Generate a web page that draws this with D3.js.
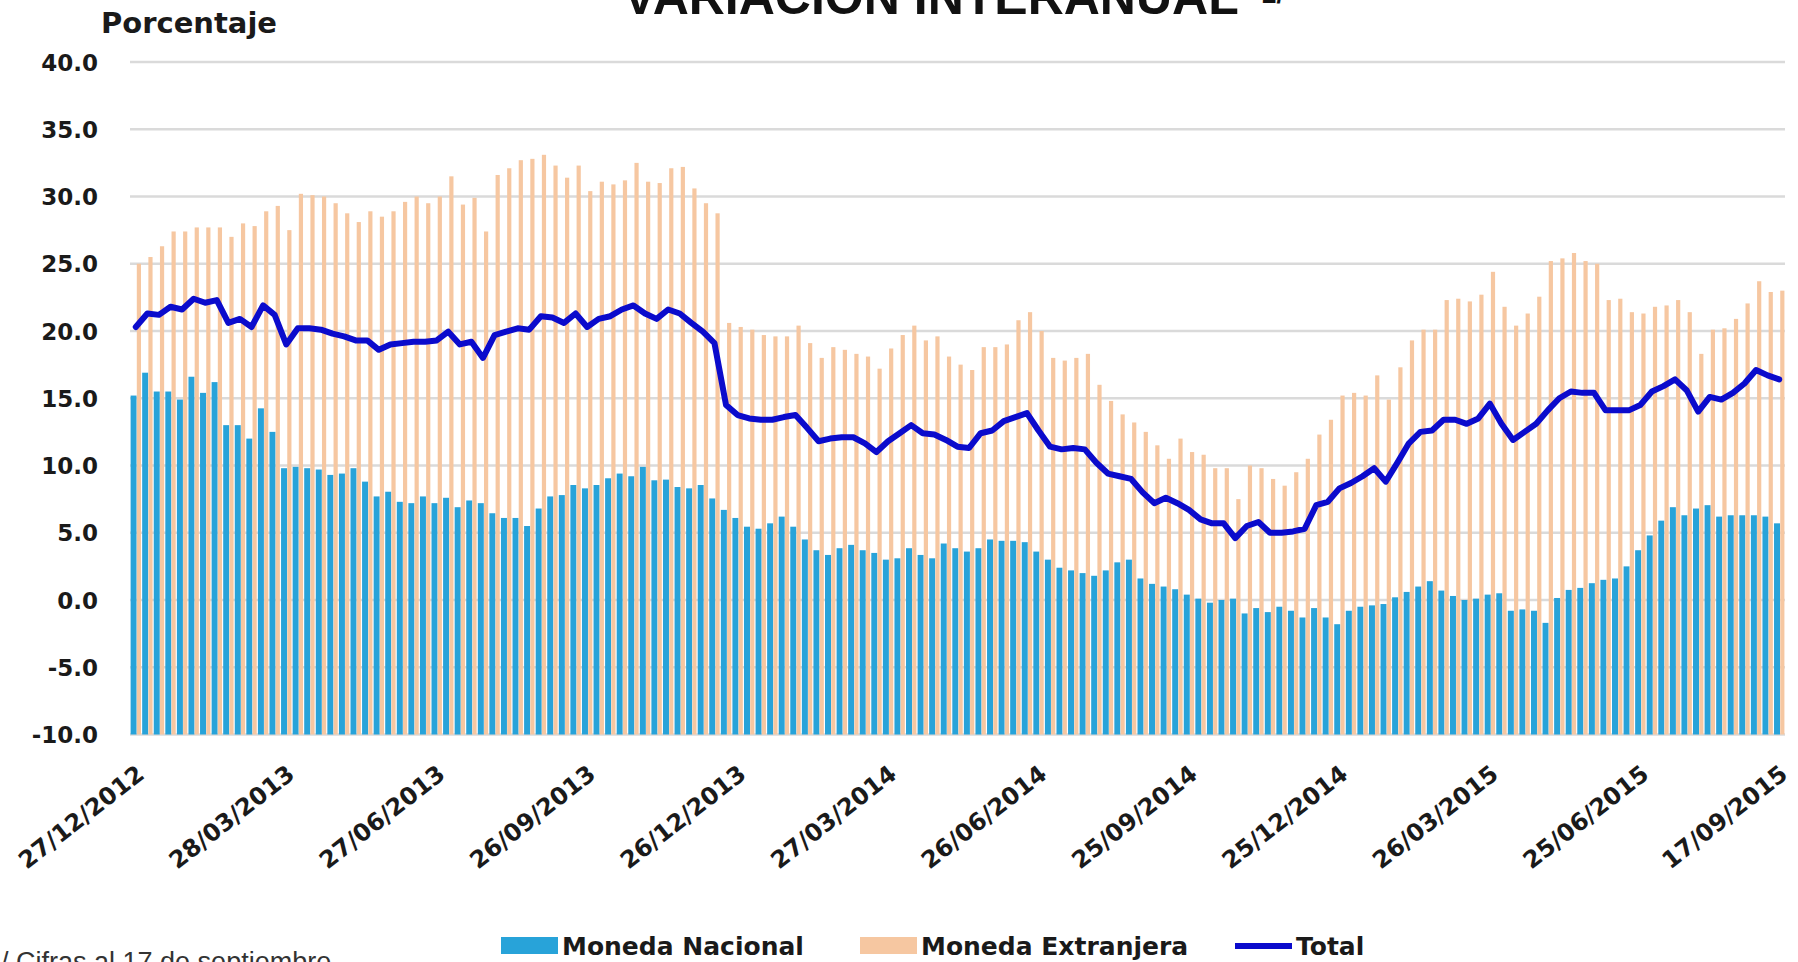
<!DOCTYPE html>
<html>
<head>
<meta charset="utf-8">
<script src="https://cdn.jsdelivr.net/npm/d3@7"></script>
<style>
body { margin: 0; background: #ffffff; overflow: hidden; }
</style>
</head>
<body>
<script>
// weekly series, 27/12/2012 .. 17/09/2015 (143 weeks)
var monedaNacional = [15.2, 16.9, 15.5, 15.5, 14.9, 16.6, 15.4, 16.2, 13.0, 13.0, 12.0, 14.25, 12.5, 9.8, 9.9, 9.8, 9.7, 9.3, 9.4, 9.8,
    8.8, 7.7, 8.05, 7.3, 7.2, 7.7, 7.2, 7.6, 6.9, 7.4, 7.2, 6.45, 6.1, 6.1, 5.5, 6.8, 7.7,
    7.8, 8.55, 8.3, 8.55, 9.05, 9.4, 9.2, 9.9, 8.9, 8.95, 8.4, 8.3, 8.55, 7.55, 6.7, 6.1, 5.45, 5.3, 5.7, 6.2,
    5.45, 4.5, 3.7, 3.35, 3.85, 4.1, 3.7, 3.5, 3.0, 3.1, 3.85, 3.35, 3.1, 4.2, 3.85, 3.6, 3.85, 4.5,
    4.4, 4.4, 4.3, 3.6, 3.0, 2.4, 2.2, 2.0, 1.8, 2.2, 2.8, 3.0, 1.6, 1.2, 1.0, 0.8, 0.4, 0.1, -0.2, 0.0,
    0.1, -1.0, -0.6, -0.9, -0.5, -0.8, -1.3, -0.6, -1.3, -1.8, -0.8, -0.5, -0.4, -0.3, 0.2, 0.6, 1.0, 1.4, 0.7, 0.3,
    0.0, 0.1, 0.4, 0.5, -0.8, -0.7, -0.8, -1.7,
    0.15, 0.75, 0.9, 1.25, 1.5, 1.6, 2.5, 3.7, 4.8, 5.9, 6.9, 6.3, 6.8, 7.05, 6.2, 6.3, 6.3, 6.3, 6.2, 5.7]

var monedaExtranjera = [25.0, 25.5, 26.3, 27.4, 27.4, 27.7, 27.7, 27.7, 27.0, 28.0, 27.8, 28.9, 29.3, 27.5, 30.2, 30.1, 30.0, 29.5,
    28.75, 28.1, 28.9, 28.5, 28.9, 29.6, 30.0, 29.5, 30.0, 31.5, 29.4, 29.9, 27.4, 31.6, 32.1, 32.7, 32.8, 33.1,
    32.3, 31.4, 32.3, 30.4, 31.1, 30.9, 31.2, 32.5, 31.1, 31.0, 32.1, 32.2, 30.6, 29.5, 28.75, 20.6, 20.3, 20.1, 19.7,
    19.6, 19.6, 20.4, 19.1, 18.0, 18.8, 18.6, 18.3, 18.1, 17.2, 18.7, 19.7, 20.4, 19.3, 19.6, 18.1, 17.5, 17.1, 18.8, 18.8,
    19.0, 20.8, 21.4, 20.0, 18.0, 17.8, 18.0, 18.3, 16.0, 14.8, 13.8, 13.2, 12.5, 11.5, 10.5, 12.0, 11.0, 10.8, 9.8, 9.8,
    7.5, 10.0, 9.8, 9.0, 8.5, 9.5,
    10.5, 12.3, 13.4, 15.2, 15.4, 15.2, 16.7, 14.9, 17.3, 19.3, 20.1, 20.1, 22.3, 22.4, 22.2, 22.7, 24.4, 21.8, 20.4, 21.3,
    22.55, 25.2, 25.4, 25.8, 25.2, 25.0, 22.3, 22.4, 21.4, 21.3, 21.8, 21.9, 22.3, 21.4, 18.3, 20.1, 20.2, 20.9, 22.05, 23.7,
    22.9, 23.0]

var total = [20.3, 21.3, 21.2, 21.8, 21.6, 22.4, 22.1, 22.3, 20.6, 20.9, 20.3, 21.9, 21.2, 19.0, 20.2, 20.2, 20.1, 19.8, 19.6,
    19.3, 19.3, 18.6, 19.0, 19.1, 19.2, 19.2, 19.3, 19.95, 19.0, 19.2, 18.0, 19.7, 19.95, 20.2, 20.1, 21.1, 21.0,
    20.6, 21.3, 20.3, 20.9, 21.1, 21.6, 21.9, 21.3, 20.9, 21.6, 21.3, 20.6, 19.95, 19.1, 14.5, 13.75, 13.5, 13.4, 13.4, 13.6,
    13.75, 12.8, 11.8, 12.0, 12.1, 12.1, 11.65, 11.0, 11.8, 12.4, 13.0, 12.4, 12.3, 11.9, 11.4, 11.3, 12.4, 12.6,
    13.3, 13.6, 13.9, 12.6, 11.4, 11.2, 11.3, 11.2, 10.2, 9.4, 9.2, 9.0, 8.0, 7.2, 7.6, 7.2, 6.7, 6.0, 5.7, 5.7,
    4.6, 5.5, 5.8, 5.0, 5.0, 5.1,
    5.3, 7.05, 7.3, 8.3, 8.7, 9.2, 9.8, 8.8, 10.2, 11.65, 12.5, 12.6, 13.4, 13.4, 13.1, 13.5, 14.6, 13.1, 11.9, 12.5,
    13.1, 14.1, 15.0, 15.5, 15.4, 15.4, 14.1, 14.1, 14.1, 14.5, 15.5, 15.9, 16.4, 15.6, 14.0, 15.1, 14.9, 15.4, 16.1, 17.1,
    16.7, 16.4]

var tickLabels = ['27/12/2012', '28/03/2013', '27/06/2013', '26/09/2013', '26/12/2013', '27/03/2014',
    '26/06/2014', '25/09/2014', '25/12/2014', '26/03/2015', '25/06/2015', '17/09/2015']
var yTicks = [-10, -5, 0, 5, 10, 15, 20, 25, 30, 35, 40]
var legendNames = ['Moneda Nacional', 'Moneda Extranjera', 'Total']

function plot_it() {
    var svgWidth = 1798, svgHeight = 962
    var blue = '#28A3D9', peach = '#F6C7A1', lineBlue = '#0B0BCC'
    var svg = d3.select('body').append('svg').attr('width', svgWidth).attr('height', svgHeight).attr('id', 'svg0')

    // one category per week
    var fmt = d3.timeFormat('%d/%m/%Y')
    var start = new Date(2012, 11, 27)
    var weeks = monedaNacional.map((d, i) => fmt(d3.timeDay.offset(start, 7 * i)))

    var x = d3.scaleBand().domain(weeks).range([130, 1785]).paddingInner(0).paddingOuter(0)
    var y = d3.scaleLinear().domain([-10, 40]).range([734.5, 62])
    var bw = x.bandwidth()

    // gridlines
    svg.append('g').selectAll('line').data(yTicks).enter().append('line')
        .attr('x1', 130).attr('x2', 1785)
        .attr('y1', d => y(d)).attr('y2', d => y(d))
        .attr('stroke', '#DADADA').attr('stroke-width', 2.5)

    // y labels (plain hyphen like the original)
    svg.append('g').selectAll('text').data(yTicks).enter().append('text')
        .attr('x', 98).attr('y', d => y(d) + 8.5)
        .attr('text-anchor', 'end')
        .style('font-family', 'DejaVu Sans').style('font-weight', 'bold').style('font-size', '23px')
        .attr('fill', '#1a1a1a')
        .text(d => d.toFixed(1))

    // clustered columns, both start at the axis minimum
    var bars = svg.append('g')
    bars.selectAll('.mn').data(monedaNacional).enter().append('rect').attr('class', 'mn')
        .attr('x', (d, i) => x(weeks[i]) + 0.6).attr('width', 6)
        .attr('y', d => y(d)).attr('height', d => y(-10) - y(d))
        .attr('fill', blue)
    bars.selectAll('.me').data(monedaExtranjera).enter().append('rect').attr('class', 'me')
        .attr('x', (d, i) => x(weeks[i]) + 6.8).attr('width', 4.2)
        .attr('y', d => y(d)).attr('height', d => y(-10) - y(d))
        .attr('fill', peach)

    // total line
    var line = d3.line()
        .x((d, i) => x(weeks[i]) + bw / 2)
        .y(d => y(d))
    svg.append('path').datum(total)
        .attr('fill', 'none').attr('stroke', lineBlue).attr('stroke-width', 6)
        .attr('stroke-linejoin', 'round').attr('stroke-linecap', 'round')
        .attr('d', line)

    // x axis labels (rotated)
    var xAxis = svg.append('g').attr('transform', 'translate(0,777)')
        .call(d3.axisBottom(x).tickValues(tickLabels).tickSize(0).tickPadding(0))
    xAxis.select('.domain').remove()
    xAxis.selectAll('text')
        .attr('y', 0).attr('dy', 0)
        .attr('text-anchor', 'end')
        .attr('transform', 'translate(10,0) rotate(-38)')
        .style('font-family', 'DejaVu Sans').style('font-weight', 'bold').style('font-size', '24px')
        .attr('fill', '#1a1a1a')

    // titles
    svg.append('text').attr('x', 623).attr('y', 14)
        .style('font-family', 'Liberation Sans').style('font-weight', 'bold').style('font-size', '50px')
        .attr('fill', '#111').text('VARIACIÓN INTERANUAL')
    svg.append('text').attr('x', 1262).attr('y', 3)
        .style('font-family', 'Liberation Sans').style('font-weight', 'bold').style('font-size', '26px')
        .attr('fill', '#111').text('2/')
    svg.append('text').attr('x', 101).attr('y', 33)
        .style('font-family', 'DejaVu Sans').style('font-weight', 'bold').style('font-size', '29px')
        .attr('fill', '#1a1a1a').text('Porcentaje')

    // footnote, cut by the bottom edge as in the original
    svg.append('text').attr('x', -14).attr('y', 971)
        .style('font-family', 'Liberation Sans').style('font-size', '27px')
        .attr('fill', '#333').text('1/ Cifras al 17 de septiembre.')

    // legend
    var legend = svg.append('g')
    var legendX = [501, 860, 1235]
    legend.append('rect').attr('x', legendX[0]).attr('y', 937).attr('width', 57).attr('height', 17).attr('fill', blue)
    legend.append('rect').attr('x', legendX[1]).attr('y', 937).attr('width', 57).attr('height', 17).attr('fill', peach)
    legend.append('line').attr('x1', legendX[2]).attr('x2', legendX[2] + 57).attr('y1', 946).attr('y2', 946)
        .attr('stroke', lineBlue).attr('stroke-width', 6)
    legend.selectAll('text').data(legendNames).enter().append('text')
        .attr('x', (d, i) => legendX[i] + 61).attr('y', 955)
        .style('font-family', 'DejaVu Sans').style('font-weight', 'bold').style('font-size', '25px')
        .attr('fill', '#1a1a1a').text(d => d)
}

plot_it()
</script>
</body>
</html>
